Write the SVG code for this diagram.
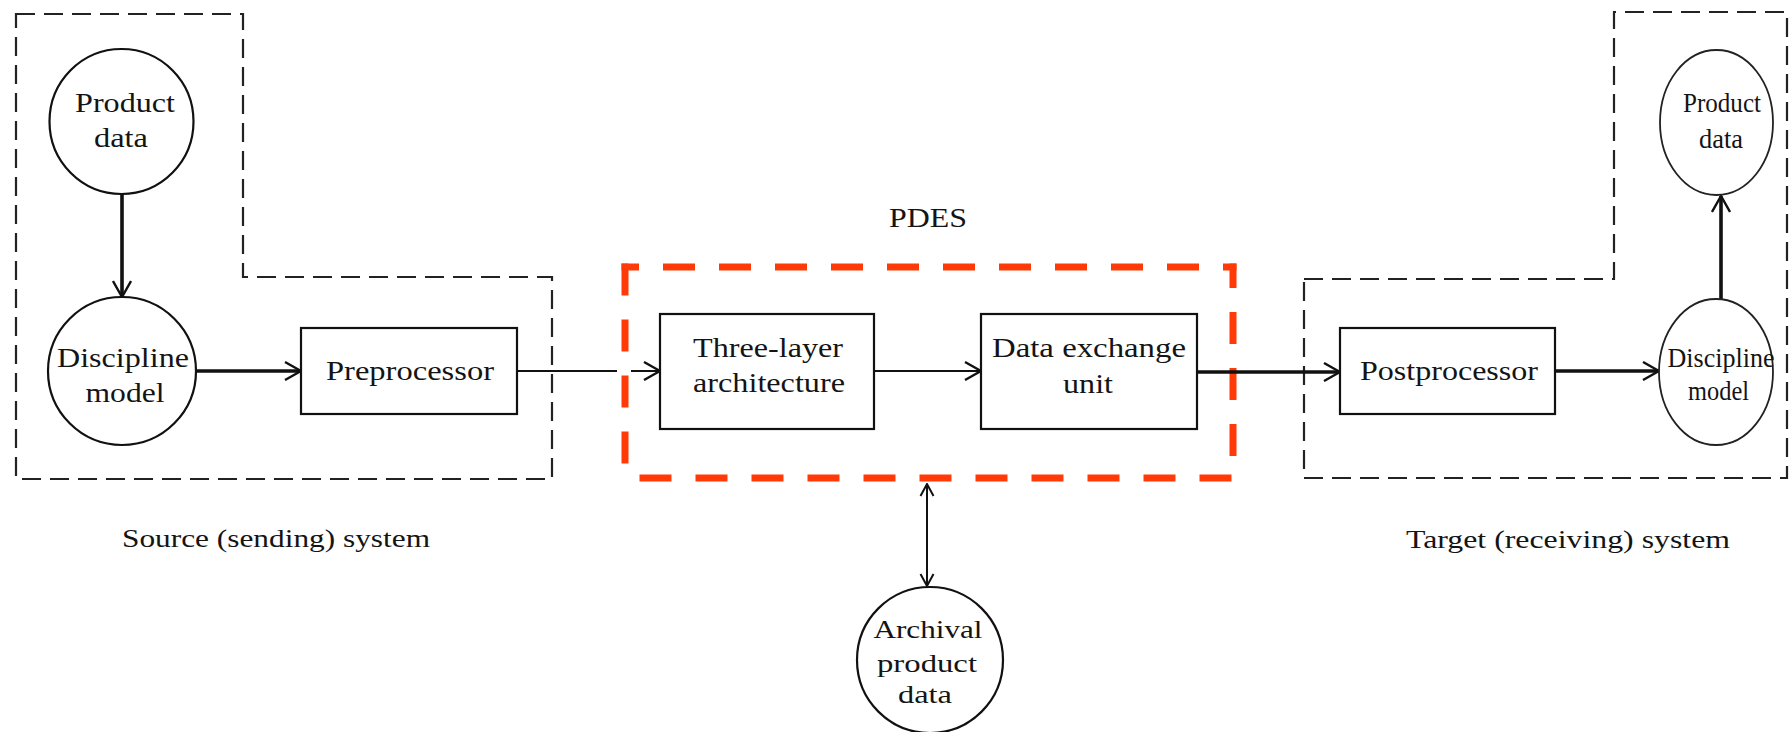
<svg xmlns="http://www.w3.org/2000/svg" width="1791" height="732" viewBox="0 0 1791 732">
  <style>
    .bg { fill: #ffffff; }
    .frame { fill: none; stroke: #222; stroke-width: 2.2; stroke-dasharray: 19 9; }
    .pdes { fill: none; stroke: #ff3a06; stroke-width: 7; stroke-dasharray: 32 24; }
    .node { fill: #ffffff; stroke: #111; stroke-width: 2.2; }
    .node-light { fill: #ffffff; stroke: #222; stroke-width: 1.8; }
    .lbl { font-family: "Liberation Serif", "Times New Roman", serif; fill: #141414; text-anchor: middle; }
    .big { font-size: 28px; }
    .mid { font-size: 26px; }
    .small { font-size: 27px; }
    .thin { fill: none; stroke: #111; stroke-width: 2; }
    .thick { fill: none; stroke: #111; stroke-width: 3.6; }
  </style>
  <defs>
    <marker id="arr" viewBox="0 0 20 20" refX="19" refY="10" markerWidth="20" markerHeight="20" markerUnits="userSpaceOnUse" orient="auto-start-reverse">
      <path d="M3,1 L19,10 L3,19" fill="none" stroke="#111" stroke-width="2.4"/>
    </marker>
    <marker id="arrS" viewBox="0 0 16 16" refX="15" refY="8" markerWidth="16" markerHeight="16" markerUnits="userSpaceOnUse" orient="auto-start-reverse">
      <path d="M3,1.5 L15,8 L3,14.5" fill="none" stroke="#111" stroke-width="2"/>
    </marker>
  </defs>

  <rect class="bg" x="0" y="0" width="1791" height="732"/>

  <!-- system boundaries -->
  <g id="source-system">
    <path class="frame" d="M16,14 H243 V277 H552 V479 H16 Z"/>
    <text class="lbl mid" x="276" y="547" textLength="308" lengthAdjust="spacingAndGlyphs">Source (sending) system</text>
  </g>
  <g id="target-system">
    <path class="frame" d="M1304,279 H1614 V12 H1787 V478 H1304 Z"/>
    <text class="lbl mid" x="1568" y="548" textLength="324" lengthAdjust="spacingAndGlyphs">Target (receiving) system</text>
  </g>
  <g id="pdes">
    <line class="pdes" x1="621.5" y1="267" x2="1236.5" y2="267" stroke-dashoffset="14.5"/>
    <line class="pdes" x1="621.5" y1="478" x2="1236.5" y2="478" stroke-dashoffset="38"/>
    <line class="pdes" x1="625" y1="263.5" x2="625" y2="470" stroke-dasharray="34 22"/>
    <line class="pdes" x1="1233" y1="263.5" x2="1233" y2="480" stroke-dashoffset="7.5"/>
    <text class="lbl big" x="928" y="227" textLength="78" lengthAdjust="spacingAndGlyphs">PDES</text>
  </g>

  <!-- connectors -->
  <g id="connectors">
    <line class="thick" x1="122" y1="194" x2="122" y2="297" marker-end="url(#arr)"/>
    <line class="thick" x1="196" y1="371" x2="301" y2="371" marker-end="url(#arr)"/>
    <path class="thin" d="M517,371 H617 M631,371 H660" marker-end="url(#arr)"/>
    <line class="thin" x1="874" y1="371" x2="981" y2="371" marker-end="url(#arr)"/>
    <line class="thick" x1="1197" y1="372" x2="1340" y2="372" marker-end="url(#arr)"/>
    <line class="thick" x1="1555" y1="371" x2="1659" y2="371" marker-end="url(#arr)"/>
    <line class="thick" x1="1721" y1="299" x2="1721" y2="196" marker-end="url(#arr)"/>
    <line class="thin" x1="927" y1="484" x2="927" y2="586" marker-start="url(#arrS)" marker-end="url(#arrS)"/>
  </g>

  <!-- source side -->
  <g id="src-product-data">
    <ellipse class="node" cx="121.5" cy="121.5" rx="72" ry="72.5"/>
    <text class="lbl big" x="125" y="112" textLength="100" lengthAdjust="spacingAndGlyphs">Product</text>
    <text class="lbl big" x="121" y="147" textLength="54" lengthAdjust="spacingAndGlyphs">data</text>
  </g>
  <g id="src-discipline-model">
    <ellipse class="node" cx="122" cy="371" rx="74" ry="74"/>
    <text class="lbl big" x="123" y="367" textLength="132" lengthAdjust="spacingAndGlyphs">Discipline</text>
    <text class="lbl big" x="125" y="402" textLength="79" lengthAdjust="spacingAndGlyphs">model</text>
  </g>
  <g id="preprocessor">
    <rect class="node" x="301" y="328" width="216" height="86"/>
    <text class="lbl big" x="410" y="380" textLength="168" lengthAdjust="spacingAndGlyphs">Preprocessor</text>
  </g>

  <!-- PDES components -->
  <g id="three-layer-architecture">
    <rect class="node" x="660" y="314" width="214" height="115"/>
    <text class="lbl big" x="768" y="357" textLength="150" lengthAdjust="spacingAndGlyphs">Three-layer</text>
    <text class="lbl big" x="769" y="392" textLength="152" lengthAdjust="spacingAndGlyphs">architecture</text>
  </g>
  <g id="data-exchange-unit">
    <rect class="node" x="981" y="314" width="216" height="115"/>
    <text class="lbl big" x="1089" y="357" textLength="194" lengthAdjust="spacingAndGlyphs">Data exchange</text>
    <text class="lbl big" x="1088" y="393" textLength="50" lengthAdjust="spacingAndGlyphs">unit</text>
  </g>
  <g id="archival-product-data">
    <ellipse class="node" cx="930" cy="660" rx="73" ry="73"/>
    <text class="lbl mid" x="928" y="638" textLength="109" lengthAdjust="spacingAndGlyphs">Archival</text>
    <text class="lbl mid" x="927" y="672" textLength="100" lengthAdjust="spacingAndGlyphs">product</text>
    <text class="lbl mid" x="925" y="703" textLength="54" lengthAdjust="spacingAndGlyphs">data</text>
  </g>

  <!-- target side -->
  <g id="postprocessor">
    <rect class="node" x="1340" y="328" width="215" height="86"/>
    <text class="lbl big" x="1449" y="380" textLength="178" lengthAdjust="spacingAndGlyphs">Postprocessor</text>
  </g>
  <g id="tgt-discipline-model">
    <ellipse class="node-light" cx="1716" cy="372" rx="57" ry="73"/>
    <text class="lbl small" x="1721" y="367" textLength="107" lengthAdjust="spacingAndGlyphs">Discipline</text>
    <text class="lbl small" x="1718.5" y="400" textLength="61" lengthAdjust="spacingAndGlyphs">model</text>
  </g>
  <g id="tgt-product-data">
    <ellipse class="node-light" cx="1716.5" cy="122.5" rx="56.5" ry="72.5"/>
    <text class="lbl small" x="1722" y="112" textLength="78" lengthAdjust="spacingAndGlyphs">Product</text>
    <text class="lbl small" x="1721" y="148" textLength="44" lengthAdjust="spacingAndGlyphs">data</text>
  </g>
</svg>
